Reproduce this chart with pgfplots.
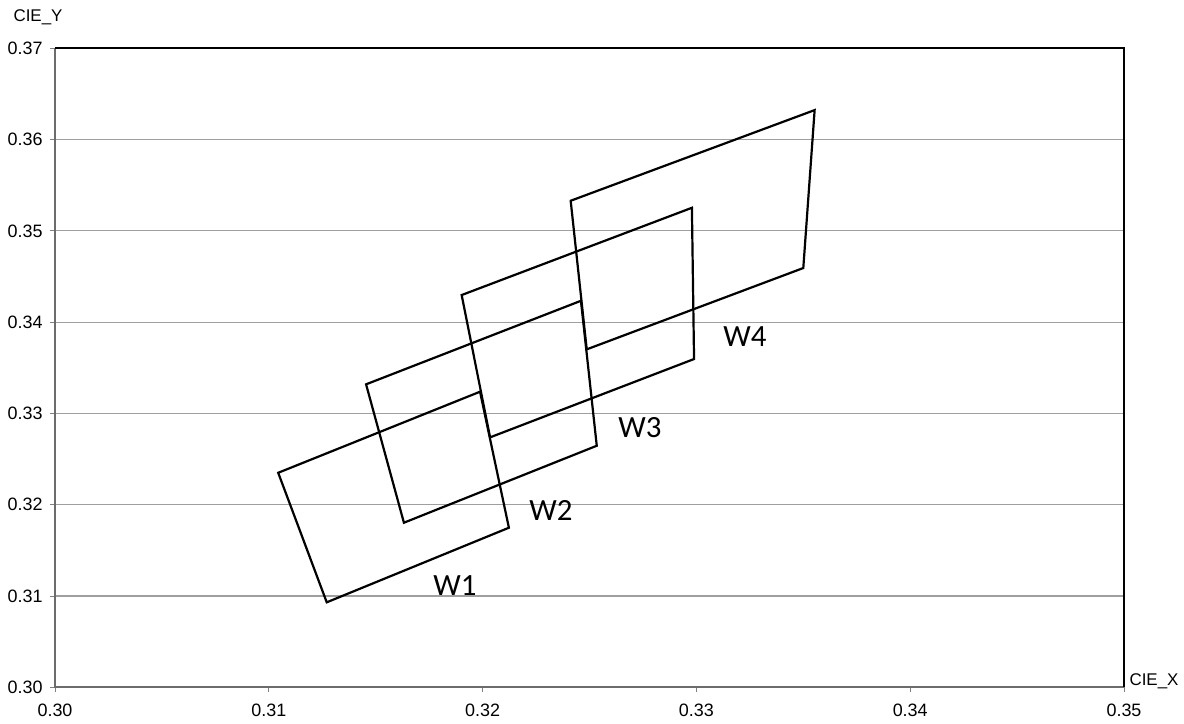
\documentclass[border=0pt]{standalone}
\usepackage{fontspec}
\setmainfont{Liberation Sans}
\newfontfamily\calibri{Carlito}
\usepackage{pgfplots}
\pgfplotsset{compat=1.18}

\begin{document}
\begin{tikzpicture}
	% page size: 1184 x 724 bp, axis box 1069 x 639 bp
	\useasboundingbox (-55bp,-36.7bp) rectangle (1129bp,687.3bp);
	\begin{axis}[
		scale only axis,
		width=1069bp, height=639bp,
		xmin=0.30, xmax=0.35,
		ymin=0.30, ymax=0.37,
		xtick={0.30,0.31,0.32,0.33,0.34,0.35},
		ytick={0.30,0.31,0.32,0.33,0.34,0.35,0.36,0.37},
		xtick pos=bottom, ytick pos=left,
		tick align=outside,
		major tick length=5bp,
		tick style={gray, line width=1bp},
		xticklabel style={font=\fontsize{18}{21}\selectfont, yshift=-8bp},
		yticklabel style={font=\fontsize{18}{21}\selectfont, xshift=-4bp},
		/pgf/number format/assume math mode=true,
		/pgf/number format/.cd, fixed, fixed zerofill, precision=2, /pgfplots/.cd,
		ymajorgrids,
		grid style={gray!75, line width=1.2bp},
		axis line style={draw=none},
		clip=false,
		]
		\draw[gray!85!black, line width=2bp] (rel axis cs:0,1) -- (rel axis cs:0,0) -- (rel axis cs:1,0);
		\draw[black, line width=2bp] (rel axis cs:0,1) -- (rel axis cs:1,1) -- (rel axis cs:1,0);

		% W1
		\addplot[black, line width=2.2bp] coordinates {
			(0.31044,0.32350) (0.31271,0.30931) (0.32123,0.31748) (0.31988,0.33238)
		} -- cycle;
		% W2
		\addplot[black, line width=2.2bp] coordinates {
			(0.31455,0.33319) (0.31632,0.31803) (0.32534,0.32646) (0.32460,0.34234)
		} -- cycle;
		% W3
		\addplot[black, line width=2.2bp] coordinates {
			(0.31902,0.34297) (0.32035,0.32738) (0.32989,0.33596) (0.32979,0.35253)
		} -- cycle;
		% W4
		\addplot[black, line width=2.2bp] coordinates {
			(0.32412,0.35330) (0.32487,0.33702) (0.33500,0.34593) (0.33553,0.36323)
		} -- cycle;

		\node[font=\calibri\fontsize{31}{36}\selectfont] at (axis cs:0.31871,0.3111) {W1};
		\node[font=\calibri\fontsize{31}{36}\selectfont] at (axis cs:0.3232,0.3194) {W2};
		\node[font=\calibri\fontsize{31}{36}\selectfont] at (axis cs:0.32736,0.3285) {W3};
		\node[font=\calibri\fontsize{31}{36}\selectfont] at (axis cs:0.33227,0.33837) {W4};

		\node[font=\fontsize{17}{20}\selectfont, anchor=west] at ([xshift=2bp,yshift=6bp]rel axis cs:1,0) {CIE\_X};
		\node[font=\fontsize{17}{20}\selectfont] at ([xshift=-17bp,yshift=31bp]rel axis cs:0,1) {CIE\_Y};
	\end{axis}
\end{tikzpicture}
\end{document}
